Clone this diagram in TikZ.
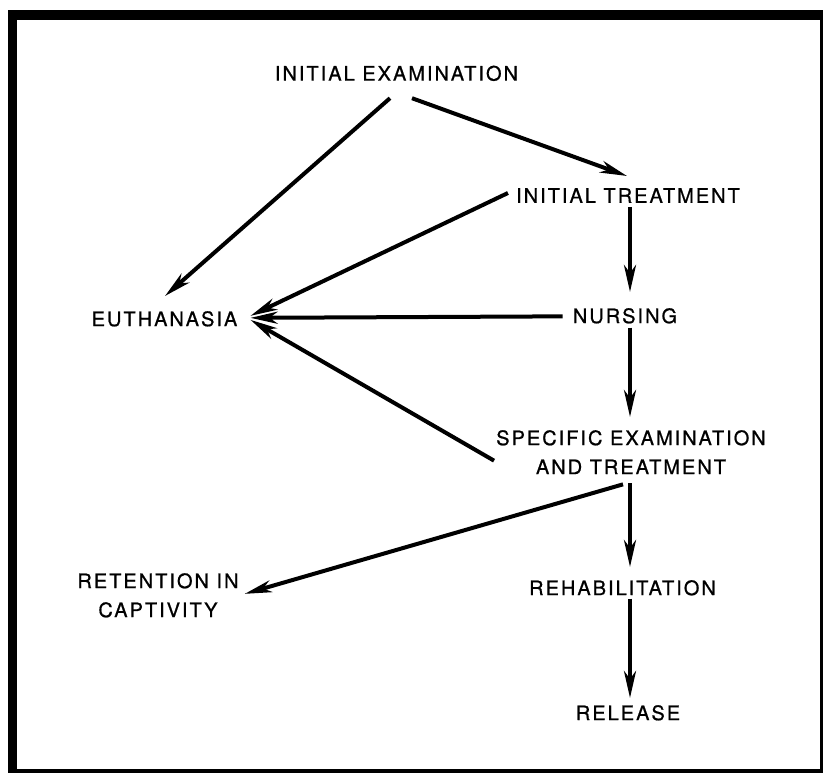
\documentclass[tikz,border=0pt]{standalone}
\usepackage{fontspec}
\setmainfont{TeX Gyre Heros}[LetterSpace=10,FakeBold=0.8]
\usetikzlibrary{arrows.meta,calc}
\tikzset{
  lbl/.style={inner sep=0pt, anchor=north, align=center, font=\fontsize{20pt}{29pt}\selectfont},
  arr/.style={line width=4pt, -{Stealth[length=27pt,width=12pt,inset=8pt]}},
  frame/.style={fill=black, draw=none}
}
\begin{document}
\begin{tikzpicture}[x=1pt,y=-1pt]
\useasboundingbox (0,0) rectangle (823,774);
\fill[white] (0,0) rectangle (823,774);
% frame
\fill[frame] (8,10) rectangle (17,773);
\fill[frame] (8,10) rectangle (823,20);
\fill[frame] (819.5,10) rectangle (823,773);
\fill[frame] (8,768.5) rectangle (823,773);
% nodes
\node[lbl] (ie) at (396.5,65.5) {INITIAL EXAMINATION};
\node[lbl] (it) at (628,188) {INITIAL TREATMENT};
\node[lbl] (eu) at (164.5,311) {EUTHANASIA};
\node[lbl] (nu) at (625,308) {NURSING};
\node[lbl] (sp) at (631,430) {SPECIFIC EXAMINATION\\AND TREATMENT};
\node[lbl] (rc) at (158,573) {RETENTION IN\\CAPTIVITY};
\node[lbl] (rh) at (622.5,580) {REHABILITATION};
\node[lbl] (rl) at (628,705) {RELEASE};
% connectors
\draw[arr] ([shift={(-6.5,17)}]ie.south) -- ([shift={(0.5,-15)}]eu.north);
\draw[arr] ([shift={(15.5,17)}]ie.south) -- ([shift={(-1,-12)}]it.north);
\draw[arr] ([shift={(-8,-2.5)}]it.west) -- ([shift={(13,-3)}]eu.east);
\draw[arr] ([shift={(2,4)}]it.south) -- ([shift={(5,-16)}]nu.north);
\draw[arr] ([shift={(-10,0.5)}]nu.west) -- ([shift={(13,-1)}]eu.east);
\draw[arr] ([shift={(5,4)}]nu.south) -- ([shift={(-1,-13)}]sp.north);
\draw[arr] ([shift={(-2,8.5)}]sp.west) -- ([shift={(13,1)}]eu.east);
\draw[arr] ([shift={(-1,9)}]sp.south) -- ([shift={(7.5,-13)}]rh.north);
\draw[arr] ([shift={(-8,10)}]sp.south) -- ([shift={(6,-1.5)}]rc.east);
\draw[arr] ([shift={(7.5,3)}]rh.south) -- ([shift={(2,-7)}]rl.north);
\end{tikzpicture}
\end{document}
